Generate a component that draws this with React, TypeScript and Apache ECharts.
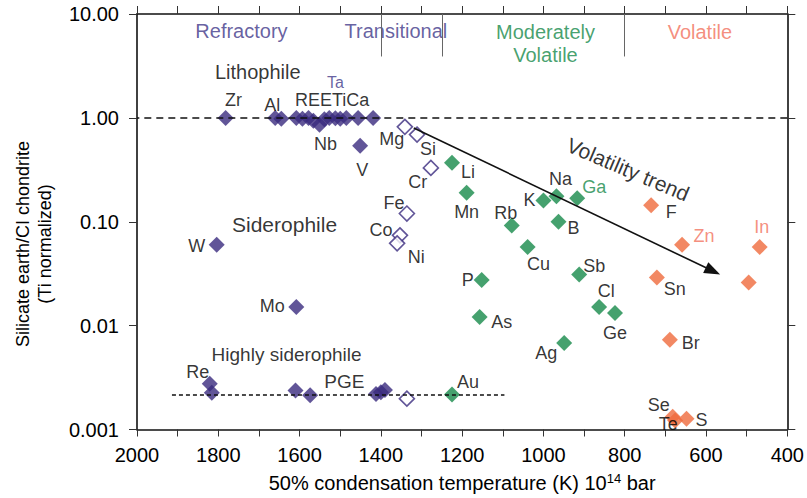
import React, { useEffect, useRef } from 'react';
import * as echarts from 'echarts';

// ---------- data ----------
// Refractory / transitional filled (purple) elements
const refNames = ['Zr', 'Al', '', '', '', '', '', 'Nb', '', '', '', '', '', '', '', 'V', 'W', 'Mo', 'Re', '', '', '', '', '', ''];
const refTemps = [1782, 1660, 1645, 1608, 1593, 1578, 1566, 1551, 1539, 1527, 1512, 1500, 1485, 1456, 1419, 1451, 1804, 1608, 1821, 1816, 1610, 1574, 1412, 1400, 1390];
const refValues = [1.0, 1.0, 0.98, 1.0, 0.98, 1.0, 0.94, 0.86, 0.97, 1.0, 0.99, 0.98, 1.0, 1.0, 1.0, 0.54, 0.06, 0.0151, 0.00276, 0.00226, 0.00237, 0.00214, 0.0022, 0.00228, 0.0024];

// Transitional open (purple outline) elements
const openNames = ['Mg', 'Si', 'Cr', 'Fe', 'Co', 'Ni', ''];
const openTemps = [1341, 1311, 1277, 1336, 1353, 1360, 1336];
const openValues = [0.82, 0.69, 0.33, 0.12, 0.074, 0.062, 0.00198];

// Moderately volatile (green)
const modNames = ['Li', 'Mn', 'K', 'Na', 'Ga', 'B', 'Rb', 'Cu', 'P', 'As', 'Sb', 'Cl', 'Ge', 'Ag', 'Au'];
const modTemps = [1225, 1189, 1000, 968, 917, 963, 1078, 1039, 1152, 1157, 912, 863, 824, 949, 1225];
const modValues = [0.37, 0.19, 0.16, 0.176, 0.168, 0.10, 0.092, 0.057, 0.0275, 0.0121, 0.031, 0.0151, 0.0132, 0.0068, 0.00217];

// Volatile (orange)
const volNames = ['F', 'Zn', 'In', 'Sn', '', 'Br', 'Se', 'Te', 'S'];
const volTemps = [735, 659, 468, 721, 495, 689, 682, 676, 648];
const volValues = [0.144, 0.06, 0.057, 0.029, 0.026, 0.0073, 0.00133, 0.00122, 0.00127];

// Volatility trend arrow
const trendStart = [1319, 0.8];
const trendEnd = [583, 0.0335];
// Highly siderophile (PGE) reference line
const pgeLine = [[1914, 0.00217], [1096, 0.00217]];
// Volatility class boundaries (K)
const boundaries = [1400, 1250, 800];

const xTicks = [2000, 1800, 1600, 1400, 1200, 1000, 800, 600, 400];
const yTickLabels: Record<number, string> = { 1: '10.00', 0: '1.00', [-1]: '0.10', [-2]: '0.01', [-3]: '0.001' };

// Text annotations in data coordinates
const annotations: { text: string; t: number; v: number }[] = [
  { text: 'Refractory', t: 1743, v: 6.87 },
  { text: 'Transitional', t: 1363, v: 6.87 },
  { text: 'Moderately\nVolatile', t: 995, v: 5.15 },
  { text: 'Volatile', t: 615, v: 6.71 },
  { text: 'Lithophile', t: 1703, v: 2.78 },
  { text: 'REETiCa', t: 1520, v: 1.5 },
  { text: 'Ta', t: 1512, v: 2.18 },
  { text: 'Siderophile', t: 1637, v: 0.0946 },
  { text: 'Highly siderophile', t: 1632, v: 0.00524 },
  { text: 'PGE', t: 1490, v: 0.00288 },
  { text: 'Volatility trend', t: 792, v: 0.319 },
];

// ---------- styles ----------
const FONT = '"Liberation Sans", Arial, Helvetica, sans-serif';
const PURPLE = '#3a2a7e';
const PURPLE_TEXT = '#3f3889';
const GREEN = '#16894a';
const ORANGE = '#ef6a3c';
const SALMON = '#f2715d';
const INK = '#000';

const labelOffsets: Record<string, [number, number]> = {
  Zr: [8, -18], Al: [-3, -13], Nb: [6, 19], V: [2, 24], W: [-20, 1], Mo: [-24, -1], Re: [-12, -12],
  Mg: [-13, 12], Si: [11, 14], Cr: [-13, 14], Fe: [-13, -11], Co: [-19, -5], Ni: [19, 14],
  Li: [16, 9], Mn: [0, 19], K: [-14, -1], Na: [4, -17], Ga: [17, -11], B: [15, 6], Rb: [-6, -13],
  Cu: [11, 17], P: [-14, 0], As: [22, 5], Sb: [15, -9], Cl: [7, -16], Ge: [0, 20], Ag: [-18, 10], Au: [16, -13],
  F: [20, 7], Zn: [22, -9], In: [2, -20], Sn: [18, 11], Br: [21, 3], Se: [-14, -12], Te: [-7, 3], S: [15, 1],
};
const labelColors: Record<string, string> = { Ga: GREEN, Zn: SALMON, In: SALMON };

const annotationStyles: Record<string, any> = {
  Refractory: { color: PURPLE_TEXT, fontSize: 20 },
  Transitional: { color: PURPLE_TEXT, fontSize: 20 },
  'Moderately\nVolatile': { color: GREEN, fontSize: 20, lineHeight: 23 },
  Volatile: { color: SALMON, fontSize: 20 },
  Lithophile: { color: INK, fontSize: 20 },
  REETiCa: { color: INK, fontSize: 18 },
  Ta: { color: PURPLE_TEXT, fontSize: 16 },
  Siderophile: { color: INK, fontSize: 21 },
  'Highly siderophile': { color: INK, fontSize: 19 },
  PGE: { color: INK, fontSize: 19 },
  'Volatility trend': { color: INK, fontSize: 21, rotate: -23 },
};

function pointData(names: string[], temps: number[], values: number[]) {
  return temps.map((t, i) => {
    const n = names[i];
    const off = labelOffsets[n];
    return {
      name: n,
      value: [t, values[i]],
      label: off
        ? { show: true, offset: off, color: labelColors[n] || INK }
        : { show: false },
    };
  });
}

const baseLabel = {
  show: true,
  position: 'inside',
  formatter: (p: any) => p.name,
  fontSize: 18,
  fontFamily: FONT,
  color: INK,
  textBorderWidth: 0,
  textBorderColor: 'transparent',
  align: 'center',
  verticalAlign: 'middle',
};

export default function App() {
  const ref = useRef<HTMLDivElement>(null);

  useEffect(() => {
    if (!ref.current) return;
    const chart = echarts.init(ref.current, undefined, { renderer: 'svg' });

    const axisLine = { show: true, lineStyle: { color: '#111', width: 1.6 } };
    const tickStyle = { lineStyle: { color: '#333', width: 1 } };

    const option: any = {
      animation: false,
      backgroundColor: '#fff',
      textStyle: { fontFamily: FONT },
      grid: { left: 137, right: 17, top: 14, bottom: 67 },
      xAxis: [
        {
          type: 'value',
          inverse: true,
          min: 400,
          max: 2000,
          interval: 200,
          position: 'bottom',
          axisLine,
          axisTick: { show: true, inside: false, length: 7, ...tickStyle },
          minorTick: { show: true, splitNumber: 2, length: 7, ...tickStyle },
          splitLine: { show: false },
          axisLabel: {
            show: true,
            margin: 15,
            fontSize: 20,
            color: INK,
            fontFamily: FONT,
            formatter: (v: number) => (xTicks.includes(v) ? String(v) : ''),
          },
          name: '50% condensation temperature (K) 10{sup|14} bar',
          nameLocation: 'middle',
          nameGap: 42,
          nameTextStyle: {
            fontSize: 20,
            color: INK,
            fontFamily: FONT,
            rich: { sup: { fontSize: 13, verticalAlign: 'top', padding: [0, 0, 10, 0], color: INK, fontFamily: FONT } },
          },
        },
        {
          type: 'value',
          inverse: true,
          min: 400,
          max: 2000,
          interval: 200,
          position: 'top',
          axisLine,
          axisTick: { show: true, inside: false, length: 8, ...tickStyle },
          minorTick: { show: true, splitNumber: 2, length: 8, ...tickStyle },
          splitLine: { show: false },
          axisLabel: { show: false },
        },
      ],
      yAxis: [
        {
          type: 'log',
          logBase: 10,
          min: 0.001,
          max: 10,
          position: 'left',
          axisLine,
          axisTick: { show: true, inside: false, length: 8, ...tickStyle },
          splitLine: { show: false },
          minorTick: { show: false },
          axisLabel: {
            margin: 18,
            fontSize: 20,
            color: INK,
            fontFamily: FONT,
            formatter: (v: number) => yTickLabels[Math.round(Math.log10(v))] ?? '',
          },
        },
        {
          type: 'log',
          logBase: 10,
          min: 0.001,
          max: 10,
          position: 'right',
          axisLine,
          axisTick: { show: true, inside: false, length: 8, ...tickStyle },
          splitLine: { show: false },
          axisLabel: { show: false },
        },
      ],
      graphic: [
        {
          type: 'text',
          x: 34,
          y: 244,
          rotation: Math.PI / 2,
          style: {
            text: 'Silicate earth/CI chondrite\n(Ti normalized)',
            fontSize: 18,
            lineHeight: 22,
            fontFamily: FONT,
            fill: INK,
            align: 'center',
            verticalAlign: 'middle',
          },
        },
      ],
      series: [
        {
          name: 'guides',
          type: 'scatter',
          xAxisIndex: 0,
          yAxisIndex: 0,
          symbolSize: 0,
          z: 1,
          data: annotations.map((a) => ({
            name: a.text,
            value: [a.t, a.v],
            label: { show: true, ...annotationStyles[a.text] },
          })),
          itemStyle: { color: 'transparent' },
          label: { ...baseLabel },
          markLine: {
            silent: true,
            symbol: ['none', 'none'],
            label: { show: false },
            data: [
              [
                { coord: [400, 1], lineStyle: { color: '#111', width: 1.6, type: [7, 5] } },
                { coord: [2000, 1] },
              ],
              [
                { coord: pgeLine[0], lineStyle: { color: '#111', width: 1.6, type: [4, 3] } },
                { coord: pgeLine[1] },
              ],
              ...boundaries.map((b) => [
                { coord: [b, 10], lineStyle: { color: '#666', width: 1, type: 'solid' } },
                { coord: [b, 3.9] },
              ]),
              [
                { coord: trendStart, symbol: 'none', lineStyle: { color: '#111', width: 1.6, type: 'solid' } },
                { coord: trendEnd, symbol: 'triangle', symbolSize: [12, 16] },
              ],
            ],
          },
        },
        {
          name: 'refractory',
          type: 'scatter',
          symbol: 'diamond',
          symbolSize: 16,
          z: 3,
          itemStyle: { color: PURPLE },
          label: { ...baseLabel },
          data: pointData(refNames, refTemps, refValues),
        },
        {
          name: 'transitional',
          type: 'scatter',
          symbol: 'diamond',
          symbolSize: 15,
          z: 3,
          itemStyle: { color: '#fff', borderColor: PURPLE, borderWidth: 1.6 },
          label: { ...baseLabel },
          data: pointData(openNames, openTemps, openValues),
        },
        {
          name: 'moderately volatile',
          type: 'scatter',
          symbol: 'diamond',
          symbolSize: 16,
          z: 3,
          itemStyle: { color: GREEN },
          label: { ...baseLabel },
          data: pointData(modNames, modTemps, modValues),
        },
        {
          name: 'volatile',
          type: 'scatter',
          symbol: 'diamond',
          symbolSize: 16,
          z: 3,
          itemStyle: { color: ORANGE },
          label: { ...baseLabel },
          data: pointData(volNames, volTemps, volValues),
        },
      ],
    };

    chart.setOption(option);
    return () => chart.dispose();
  }, []);

  return (
    <div
      ref={ref}
      style={{ position: 'fixed', left: 0, top: 0, width: 807, height: 498, background: '#fff' }}
    />
  );
}
